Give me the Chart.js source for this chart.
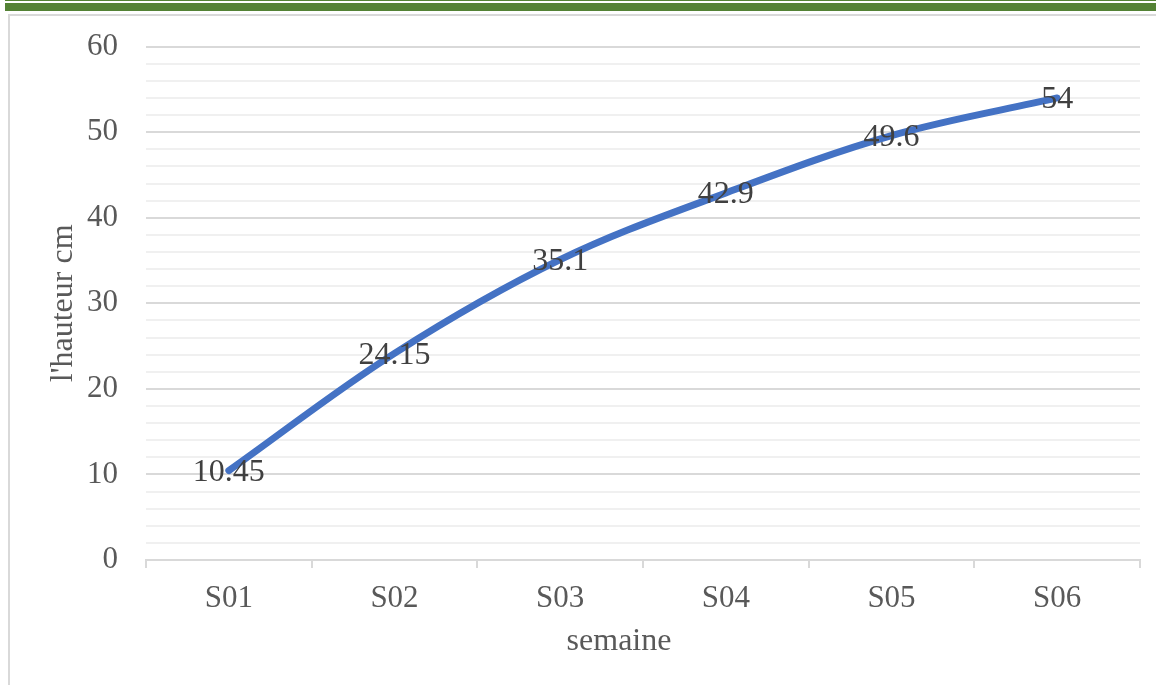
<!DOCTYPE html>
<html>
<head>
<meta charset="utf-8">
<script src="https://cdn.jsdelivr.net/npm/chart.js@4/dist/chart.umd.min.js"></script>
<style>
  html, body { margin: 0; padding: 0; background: #fff; }
  body { width: 1156px; height: 685px; position: relative; overflow: hidden; }
  .rule-thin { position: absolute; left: 5px; right: 0; top: 0; height: 1px; background: #548235; }
  .rule-thick { position: absolute; left: 5px; right: 0; top: 3px; height: 8px; background: #548235; }
  .frame { position: absolute; left: 8px; top: 14px; right: -4px; bottom: -4px; border: 2px solid #d9d9d9; }
  #wrap { position: absolute; left: 0; top: 0; width: 1156px; height: 685px; }
</style>
</head>
<body>
<div class="rule-thin"></div>
<div class="rule-thick"></div>
<div class="frame"></div>
<div id="wrap"><canvas id="chart" width="1156" height="685"></canvas></div>
<script>
// Weekly plant height measurements
const weeks = ['S01', 'S02', 'S03', 'S04', 'S05', 'S06'];
const heights = [10.45, 24.15, 35.1, 42.9, 49.6, 54];
const valueLabels = ['10.45', '24.15', '35.1', '42.9', '49.6', '54'];
const xTitle = 'semaine';
const yTitle = "l'hauteur cm";

const serif = '"Liberation Serif", "Times New Roman", serif';

// Draws each point's value centred on the point
const pointValues = {
  id: 'pointValues',
  afterDatasetsDraw(chart) {
    const ctx = chart.ctx;
    const meta = chart.getDatasetMeta(0);
    ctx.save();
    ctx.font = '32px ' + serif;
    ctx.fillStyle = '#404040';
    ctx.textAlign = 'center';
    ctx.textBaseline = 'middle';
    meta.data.forEach((pt, i) => {
      ctx.fillText(valueLabels[i], pt.x, pt.y + 2);
    });
    ctx.restore();
  }
};

// Horizontal axis title, set a little left of the plot centre
const xAxisTitle = {
  id: 'xAxisTitle',
  afterDraw(chart) {
    const ctx = chart.ctx;
    const area = chart.chartArea;
    ctx.save();
    ctx.font = '32px ' + serif;
    ctx.fillStyle = '#595959';
    ctx.textAlign = 'center';
    ctx.textBaseline = 'alphabetic';
    ctx.fillText(xTitle, (area.left + area.right) / 2 - 24, area.bottom + 90);
    ctx.restore();
  }
};

new Chart(document.getElementById('chart'), {
  type: 'line',
  data: {
    labels: weeks,
    datasets: [{
      data: heights,
      borderColor: '#4472C4',
      borderWidth: 7,
      borderCapStyle: 'round',
      pointRadius: 0,
      tension: 0.35,
      fill: false
    }]
  },
  options: {
    responsive: false,
    animation: false,
    layout: { padding: { top: 30, right: 16, bottom: 20, left: 40 } },
    plugins: { legend: { display: false }, tooltip: { enabled: false } },
    scales: {
      x: {
        offset: true,
        grid: { offset: true, drawOnChartArea: false, color: '#d9d9d9', lineWidth: 2, tickLength: 8 },
        border: { color: '#d9d9d9', width: 2 },
        ticks: { color: '#595959', font: { family: serif, size: 31 }, padding: 12 },
        afterFit(scale) { scale.height = 105; }
      },
      y: {
        min: 0, max: 60,
        grid: {
          drawTicks: false,
          lineWidth: 2,
          color: (c) => (c.tick && c.tick.value % 10 === 0) ? '#d9d9d9' : '#f0f0f0'
        },
        border: { display: false },
        ticks: {
          stepSize: 2,
          autoSkip: false,
          color: '#595959',
          font: { family: serif, size: 31 },
          padding: 28,
          callback: (v) => (v % 10 === 0 ? String(v) : '')
        },
        title: { display: true, text: yTitle, color: '#595959', font: { family: serif, size: 32 }, padding: { top: 4, bottom: 4 } },
        afterFit(scale) { scale.width = 106; }
      }
    }
  },
  plugins: [pointValues, xAxisTitle]
});
</script>
</body>
</html>
